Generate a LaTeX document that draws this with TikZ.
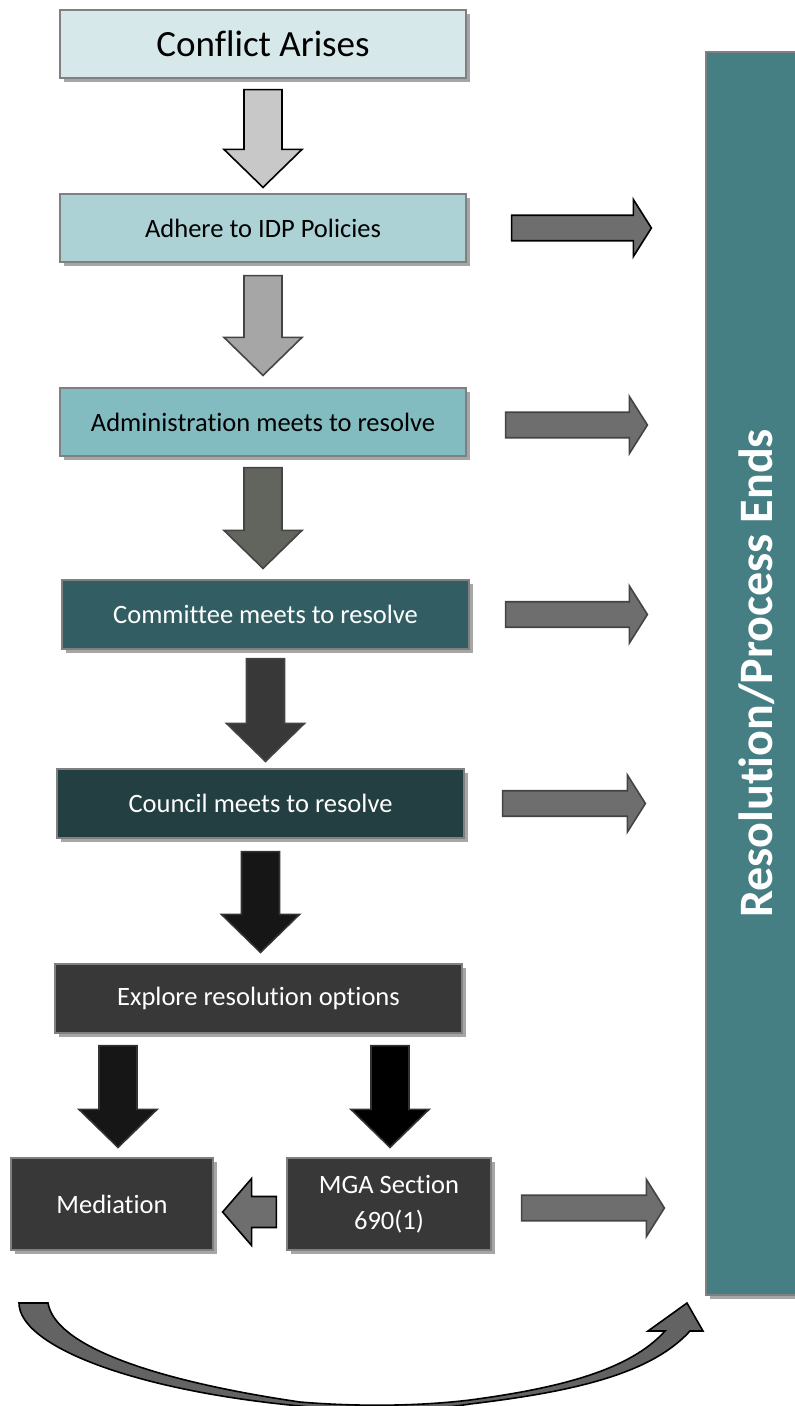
\documentclass[tikz,border=0pt]{standalone}
\usepackage{fontspec}
\setmainfont{Carlito}[Ligatures=NoCommon]
\usetikzlibrary{calc,shadows}
\definecolor{fillA}{HTML}{D6E8EA}
\definecolor{fillB}{HTML}{ADD2D5}
\definecolor{fillC}{HTML}{83BCC0}
\definecolor{fillD}{HTML}{325E63}
\definecolor{fillE}{HTML}{233F42}
\definecolor{fillF}{HTML}{383838}
\definecolor{fillR}{HTML}{457F84}
\definecolor{arrA}{HTML}{C8C8C8}
\definecolor{arrB}{HTML}{A6A6A6}
\definecolor{arrC}{HTML}{62645E}
\definecolor{arrD}{HTML}{383838}
\definecolor{arrE}{HTML}{161616}
\definecolor{arrG}{HTML}{6E6E6E}
\definecolor{edgeG}{HTML}{444444}
\tikzset{
  box/.style={draw=black!50, line width=1.2pt, minimum width=406pt, minimum height=68pt,
    inner sep=0pt, align=center, font=\fontsize{26.5}{36}\selectfont,
    drop shadow={shadow xshift=4pt, shadow yshift=-4pt, fill=black!35, opacity=1}},
  blk/.style n args={3}{to path={
    ($(\tikztotarget)!#3!(\tikztostart)$) coordinate (blk-h)
    ($(\tikztostart)!#1!90:(\tikztotarget)$) -- ($(blk-h)!#1!90:(\tikztotarget)$)
    -- ($(blk-h)!#2!90:(\tikztotarget)$) -- (\tikztotarget)
    -- ($(blk-h)!#2!-90:(\tikztotarget)$) -- ($(blk-h)!#1!-90:(\tikztotarget)$)
    -- ($(\tikztostart)!#1!-90:(\tikztotarget)$) -- cycle}},
  darrow/.style={blk={19pt}{39pt}{38pt}, line width=1.6pt, draw=edgeG},
  rarrow/.style={blk={12.75pt}{28.5pt}{18pt}, line width=1.6pt, draw=edgeG, fill=arrG},
}
\begin{document}
\begin{tikzpicture}[x=1pt,y=-1pt]
\useasboundingbox (0,0) rectangle (795,1406);
% boxes
\node[box, fill=fillA, font=\fontsize{37}{44}\selectfont] (conflict) at (263,44) {Conflict Arises};
\node[box, fill=fillB] (adhere) at (263,228) {Adhere to IDP Policies};
\node[box, fill=fillC] (admin) at (263,422) {Administration meets to resolve};
\node[box, fill=fillD, text=white, minimum width=407pt, minimum height=69pt] (cmte) at (265.5,614.5) {Committee meets to resolve};
\node[box, fill=fillE, text=white, minimum width=407pt, minimum height=69pt] (council) at (260.5,803.5) {Council meets to resolve};
\node[box, fill=fillF, text=white, minimum width=407pt, minimum height=69pt] (explore) at (258.5,998.5) {Explore resolution options};
\node[box, fill=fillF, text=white, minimum width=202pt, minimum height=92pt] (med) at (112,1204) {Mediation};
\node[box, fill=fillF, text=white, minimum width=204pt, minimum height=92pt] (mga) at (389,1204) {MGA Section\\690(1)};
\node[box, fill=fillR, minimum width=98pt, minimum height=1243pt] (res) at (755,673.5) {};
\node[rotate=90, text=white, font=\bfseries\fontsize{48}{56}\selectfont] (resl) at ([xshift=2pt]res.center) {Resolution/Process Ends};
% down arrows
\coordinate (a1s) at ([yshift=-11pt]conflict.south);
\coordinate (a1e) at ([yshift=6pt]adhere.north);
\coordinate (a2s) at ([yshift=-13pt]adhere.south);
\coordinate (a2e) at ([yshift=12pt]admin.north);
\coordinate (a3s) at ([yshift=-11pt]admin.south);
\coordinate (a3e) at ([yshift=11pt]cmte.north -| admin.north);
\coordinate (a4s) at ([yshift=-9pt]cmte.south);
\coordinate (a4e) at ([yshift=7pt]council.north -| cmte.north);
\coordinate (a5s) at ([yshift=-13pt]council.south);
\coordinate (a5e) at ([yshift=11pt]explore.north -| council.north);
\coordinate (a6s) at ($(explore.south -| med.north)+(6,12)$);
\coordinate (a6e) at ([xshift=6pt,yshift=10pt]med.north);
\coordinate (a7s) at ($(explore.south -| mga.north)+(1,12)$);
\coordinate (a7e) at ([xshift=1pt,yshift=10pt]mga.north);
\draw[darrow, fill=arrA, draw=black] (a1s) to (a1e);
\draw[darrow, fill=arrB] (a2s) to (a2e);
\draw[darrow, fill=arrC] (a3s) to (a3e);
\draw[darrow, fill=arrD] (a4s) to (a4e);
\draw[darrow, fill=arrE, draw=black!80] (a5s) to (a5e);
\draw[darrow, fill=arrE, draw=black!80] (a6s) to (a6e);
\draw[darrow, fill=black, draw=black!80] (a7s) to (a7e);
% arrows to the end box
\coordinate (r1s) at ([xshift=45pt]adhere.east);
\coordinate (r1e) at ($(adhere -| res.west)+(-54,0)$);
\coordinate (r2s) at ($(admin.east)+(39,3)$);
\coordinate (r2e) at ($(admin -| res.west)+(-58,3)$);
\coordinate (r3s) at ([xshift=36pt]cmte.east);
\coordinate (r3e) at ($(cmte -| res.west)+(-58,0)$);
\coordinate (r4s) at ([xshift=38pt]council.east);
\coordinate (r4e) at ($(council -| res.west)+(-60,0)$);
\coordinate (r5s) at ($(mga.east)+(30,4)$);
\coordinate (r5e) at ($(mga -| res.west)+(-41,4)$);
\draw[rarrow, draw=black] (r1s) to (r1e);
\draw[rarrow] (r2s) to (r2e);
\draw[rarrow] (r3s) to (r3e);
\draw[rarrow] (r4s) to (r4e);
\draw[rarrow] (r5s) to (r5e);
\coordinate (l1s) at ($(mga.west)+(-10,8)$);
\coordinate (l1e) at ($(med.east)+(9,8)$);
\draw[blk={15.5pt}{33.5pt}{29pt}, line width=1.6pt, draw=black, fill=arrG] (l1s) to (l1e);
% curved arrow along the bottom
\draw[line width=1.6pt, draw=black, fill=arrG!90!black]
  (19,1303) .. controls (19,1345) and (130,1390) .. (300,1406)
  .. controls (360,1412) and (420,1412) .. (470,1404)
  .. controls (570,1392) and (650,1375) .. (690,1331)
  -- (703,1331) -- (687,1303) -- (648,1331) -- (665,1331)
  .. controls (630,1370) and (560,1388) .. (470,1400)
  .. controls (420,1406) and (360,1407) .. (300,1402)
  .. controls (150,1380) and (55,1345) .. (48,1303) -- cycle;
\end{tikzpicture}
\end{document}
